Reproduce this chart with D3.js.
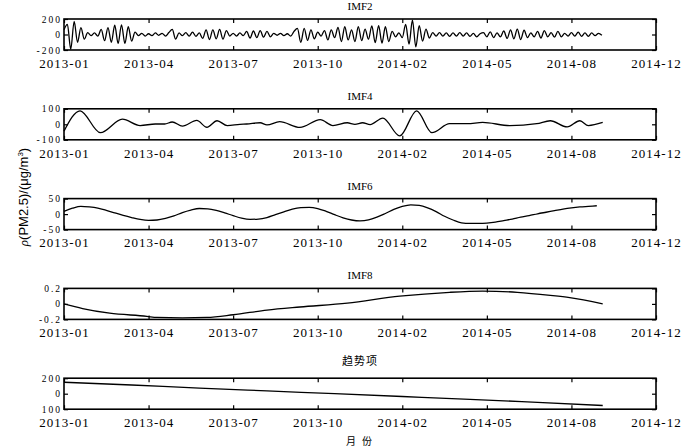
<!DOCTYPE html>
<html>
<head>
<meta charset="utf-8">
<script src="https://cdn.jsdelivr.net/npm/d3@7"></script>
<style>
  body { margin: 0; background: #fff; }
  svg { display: block; }
  .x.axis text { font-family: 'Liberation Serif', serif; font-size: 13px; letter-spacing: 1px; fill: #000; }
  .y.axis text { font-family: 'Liberation Serif', serif; font-size: 9.5px; letter-spacing: 2px; fill: #000; }
  .axis line { stroke: #000; stroke-width: 1.2; }
  .axis path { display: none; }
</style>
</head>
<body>
<svg></svg>
<script>
// x axis: day index since 2013-01, labels as printed (evenly spaced every 100 days)
var xTickDays = [0, 100, 200, 300, 400, 500, 600, 700];
var xTickLabels = ['2013-01', '2013-04', '2013-07', '2013-10', '2014-02', '2014-05', '2014-08', '2014-12'];

// IMF2, one value every 4 days
var imf2Step = 4;
var imf2 = [60, 130, -190, 170, -100, 90, -60, 25, -15, 20, -20, 65, -80, 90, -100, 120,
  -115, 125, -115, 100, -85, 30, -15, 15, -20, 10, -15, 20, -10, 15, -20, 25,
  65, -60, 20, -15, 25, -20, 30, -25, 20, -50, 60, -65, 60, -55, 65, -60,
  50, -20, 15, -20, 20, -15, 40, -45, 45, -40, 50, -35, 40, -30, 15, -10,
  15, -15, 10, -20, 40, 80, -100, 80, -75, 60, -55, 30, -20, 50, -70, 60,
  -40, 90, -90, 100, -70, 60, -90, 100, -80, 70, -60, 110, -105, 115, -110, 100,
  -90, 40, -30, 20, -40, 130, -125, 185, -160, 115, -85, 70, -45, 25, -20, 25,
  -20, 20, -25, 20, -20, 25, -20, 20, -25, 15, -30, 10, 25, -30, 35, -40,
  20, -30, 45, -50, 60, -55, 70, -65, 55, -40, 20, -30, 40, -45, 50, -30,
  25, -35, 40, -30, 15, -20, 25, -20, 30, -25, 20, -25, 20, -15, 15, -10];

// IMF4, turning points
var imf4Days = [0, 19, 43, 69, 90, 108, 119, 128, 140, 157, 169, 181, 193, 208, 216, 232, 240, 255,
  279, 303, 318, 335, 344, 353, 362, 377, 397, 417, 435, 456, 477, 495, 527, 559, 575, 595, 610, 620, 637];
var imf4 = [-44, 87, -54, 33, -8, 2, 2, 15, -12, 25, -19, 23, -8, 0, 2, 10, -4, 17,
  -20, 30, -8, 10, 0, 10, -2, 40, -75, 87, -54, 4, 4, 12, -8, 4, 23, -17, 23, -8, 12];

// IMF6, one value every 10 days
var imf6Step = 10;
var imf6 = [9, 19, 25, 23, 19, 12, 4, -4, -11, -17, -20, -19, -14, -6, 5, 13, 18, 17, 12, 4,
  -5, -13, -17, -16, -11, -2, 7, 16, 21, 22, 18, 9, -2, -12, -19, -22, -19, -10, 2, 15,
  25, 30, 28, 20, 8, -7, -19, -28, -30, -30, -29, -26, -21, -16, -10, -5, 1, 6, 11, 16,
  20, 23, 25, 27];

// IMF8
var imf8Days = [0, 22, 54, 98, 110, 140, 169, 200, 240, 279, 335, 397, 456, 495, 536, 575, 598, 637];
var imf8 = [0, -0.06, -0.12, -0.16, -0.175, -0.18, -0.175, -0.14, -0.08, -0.04, 0.01, 0.10, 0.15, 0.165, 0.15, 0.11, 0.08, 0.0];

// trend
var trendDays = [0, 80, 160, 240, 320, 400, 480, 560, 637];
var trend = [187, 178, 168, 159, 150, 141, 132, 122, 112];

var panelTitles = ['IMF2', 'IMF4', 'IMF6', 'IMF8', '趋势项'];
var yDomains = [[-200, 200], [-100, 100], [-50, 50], [-0.2, 0.2], [100, 200]];
var yTickValues = [[-200, 0, 200], [-100, 0, 100], [-50, 0, 50], [-0.2, 0, 0.2], [100, 150, 200]];
var yTickLabels = [['-200', '0', '200'], ['-100', '0', '100'], ['-50', '0', '50'], ['-0.2', '0', '0.2'], ['100', '0', '200']];

function toPoints(days, values) {
  return values.map(function(v, i) { return { day: days[i], v: v }; });
}

var series = [
  toPoints(imf2.map(function(v, i) { return i * imf2Step; }), imf2),
  toPoints(imf4Days, imf4),
  toPoints(imf6.map(function(v, i) { return i * imf6Step; }), imf6),
  toPoints(imf8Days, imf8),
  toPoints(trendDays, trend)
];

var margin = { left: 64, top: 19 };
var width = 592,
  height = 31,
  gap = 89.8;

var svg = d3.select('svg')
  .attr('width', 700)
  .attr('height', 447);

var x = d3.scaleLinear().domain([0, 700]).range([0, width]);

series.forEach(function(data, k) {
  var y = d3.scaleLinear().domain(yDomains[k]).range([height, 0]);

  var g = svg.append('g')
    .attr('transform', 'translate(' + margin.left + ',' + (margin.top + k * gap) + ')');

  g.append('g')
    .attr('class', 'x axis')
    .attr('transform', 'translate(0,' + height + ')')
    .call(d3.axisBottom(x).tickValues(xTickDays)
      .tickFormat(function(d, i) { return xTickLabels[i]; })
      .tickSizeInner(-4).tickSizeOuter(0).tickPadding(8.5));

  g.append('g')
    .attr('class', 'x axis')
    .call(d3.axisTop(x).tickValues(xTickDays).tickFormat('')
      .tickSizeInner(-4).tickSizeOuter(0));

  g.append('g')
    .attr('class', 'y axis')
    .call(d3.axisLeft(y).tickValues(yTickValues[k])
      .tickFormat(function(d, i) { return yTickLabels[k][i]; })
      .tickSizeInner(-4).tickSizeOuter(0).tickPadding(2));

  g.append('g')
    .attr('class', 'y axis')
    .attr('transform', 'translate(' + width + ',0)')
    .call(d3.axisRight(y).tickValues(yTickValues[k]).tickFormat('')
      .tickSizeInner(-4).tickSizeOuter(0));

  g.append('path')
    .datum(data)
    .attr('fill', 'none')
    .attr('stroke', '#000')
    .attr('stroke-width', 1.3)
    .attr('d', d3.line()
      .x(function(d) { return x(d.day); })
      .y(function(d) { return y(d.v); })
      .curve(d3.curveMonotoneX));

  g.append('rect')
    .attr('width', width)
    .attr('height', height)
    .attr('fill', 'none')
    .attr('stroke', '#000')
    .attr('stroke-width', 1.6);

  var isCjk = k === 4;
  g.append('text')
    .attr('x', width / 2)
    .attr('y', isCjk ? -13 : -9)
    .style('text-anchor', 'middle')
    .style('font-family', isCjk ? "'Noto Sans CJK SC', sans-serif" : "'Liberation Serif', serif")
    .style('font-size', '11px')
    .style('letter-spacing', isCjk ? '1px' : '0px')
    .text(panelTitles[k]);
});

// x axis title
svg.append('text')
  .attr('x', 362)
  .attr('y', 445)
  .style('text-anchor', 'middle')
  .style('font-family', "'Noto Sans CJK SC', sans-serif")
  .style('font-size', '10px')
  .style('letter-spacing', '6px')
  .text('月份');

// y axis title
var ylab = svg.append('text')
  .attr('transform', 'translate(28,197) rotate(-90)')
  .style('text-anchor', 'middle')
  .style('font-family', "'Liberation Sans', sans-serif")
  .style('font-size', '13px');
ylab.append('tspan').style('font-style', 'italic').style('font-family', "'Liberation Serif', serif").text('ρ');
ylab.append('tspan').text('(PM2.5)/(μg/m');
ylab.append('tspan').attr('dy', -5).style('font-size', '8px').text('3');
ylab.append('tspan').attr('dy', 5).text(')');
</script>
</body>
</html>
